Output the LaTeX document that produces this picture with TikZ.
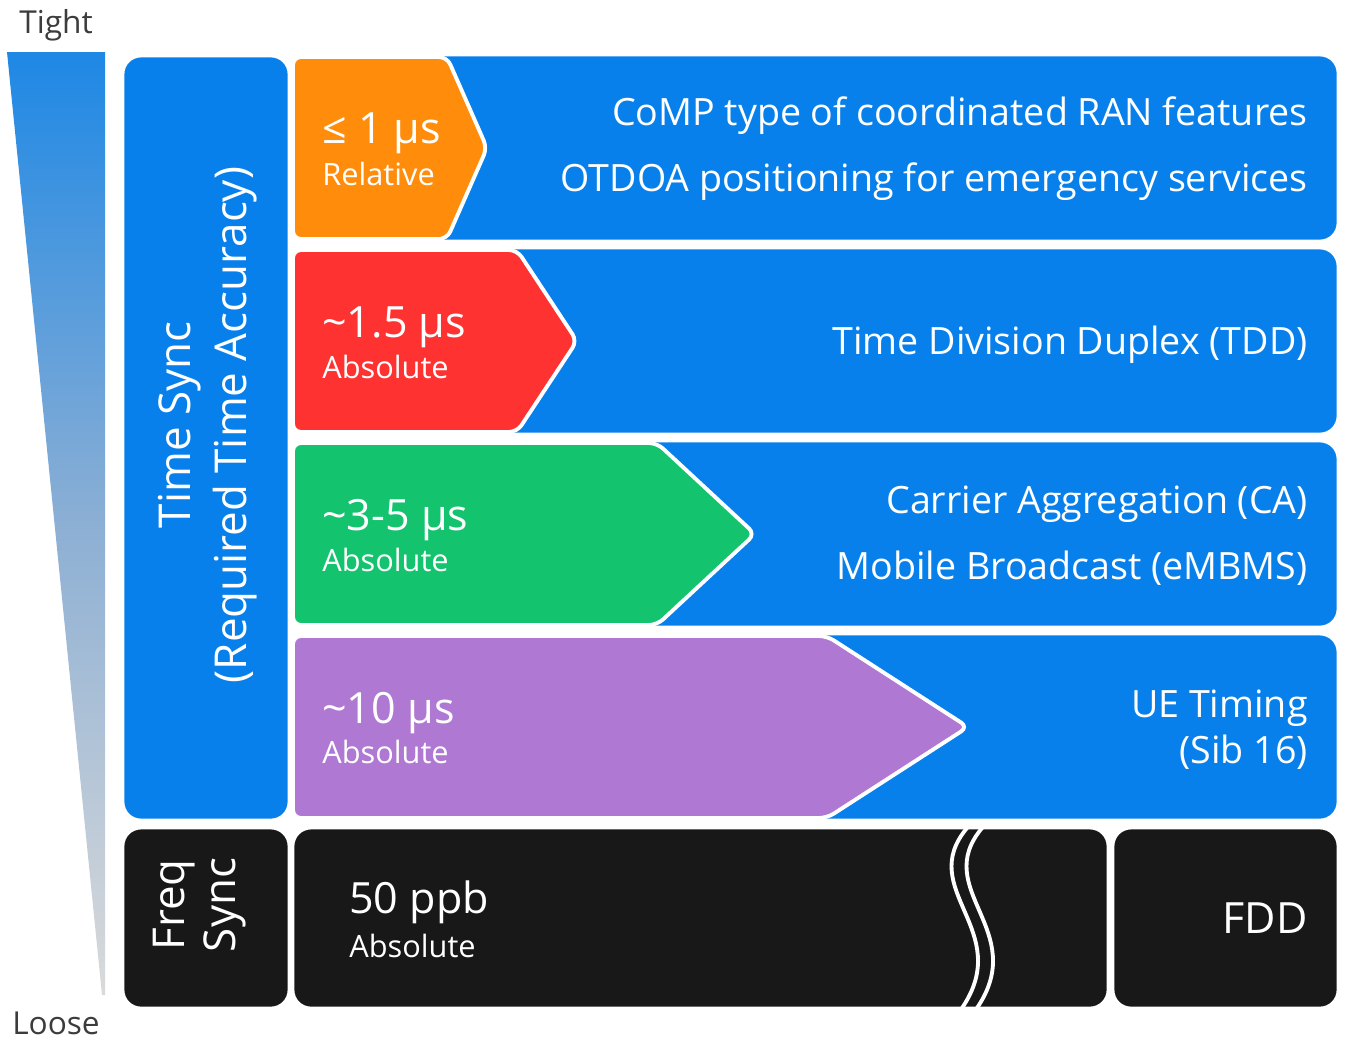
\documentclass[tikz,border=0pt]{standalone}
\usepackage{fontspec}
\setmainfont{Open Sans}
\definecolor{ebBlue}{RGB}{8,128,236}
\definecolor{ebOrange}{RGB}{255,140,10}
\definecolor{ebRed}{RGB}{255,50,50}
\definecolor{ebGreen}{RGB}{20,195,110}
\definecolor{ebPurple}{RGB}{175,120,210}
\definecolor{ebBlack}{RGB}{24,24,24}
\definecolor{ebGray}{RGB}{60,60,60}
\definecolor{wedgeTop}{RGB}{30,136,229}
\definecolor{wedgeMid}{RGB}{140,175,212}
\definecolor{wedgeBot}{RGB}{218,218,218}
\begin{document}
\begin{tikzpicture}[x=0.02cm,y=-0.02cm,
  rowbox/.style={fill=ebBlue, draw=white, line width=1.6pt, rounded corners=0.36cm},
  blackbox/.style={fill=ebBlack, draw=white, line width=1.6pt, rounded corners=0.36cm},
  chev/.style={draw=white, line width=2.2pt, rounded corners=0.16cm},
  desc/.style={text=white, font=\fontsize{21.4}{25}\selectfont, anchor=base east, inner sep=0pt},
  bigval/.style={text=white, font=\fontsize{24.5}{28}\selectfont, anchor=base west, inner sep=0pt},
  smallval/.style={text=white, font=\fontsize{17.5}{20}\selectfont, anchor=base west, inner sep=0pt},
  sidelab/.style={text=white, font=\fontsize{25}{30}\selectfont, rotate=90, inner sep=0pt},
  endlab/.style={text=ebGray, font=\fontsize{18}{22}\selectfont, inner sep=0pt, anchor=base}
]
\useasboundingbox (0,0) rectangle (1345,1042);

% gradient wedge
\shade[top color=wedgeTop, bottom color=wedgeBot, middle color=wedgeMid]
  (7,52) -- (105,52) -- (105,995) -- (102,995) -- cycle;
\node[endlab] (tight) at (56,33) {Tight};
\node[endlab] (loose) at (56,1034) {Loose};

% Time sync column
\path[rowbox] (123,56) rectangle (289,820);
\node[sidelab, anchor=base] (ts1) at (190,425) {Time Sync};
\node[sidelab, anchor=base] (ts2) at (246,425) {(Required Time Accuracy)};

% rows
\path[rowbox] (291,55) rectangle (1338,241);
\path[rowbox] (291,248) rectangle (1338,434);
\path[rowbox] (291,441) rectangle (1338,627);
\path[rowbox] (291,634) rectangle (1338,820);

% chevrons
\path[chev, fill=ebOrange] (293,57) -- (447,57) -- (487,148) -- (447,239) -- (293,239) -- cycle;
\path[chev, fill=ebRed]    (293,250) -- (517,250) -- (577,341) -- (517,432) -- (293,432) -- cycle;
\path[chev, fill=ebGreen]  (293,443) -- (657,443) -- (755,534) -- (657,625) -- (293,625) -- cycle;
\path[chev, fill=ebPurple] (293,636) -- (827,636) -- (968,727) -- (827,818) -- (293,818) -- cycle;

% chevron labels
\node[bigval] (v1) at (322,143) {≤ 1 µs};
\node[smallval] (r1) at (322,185) {Relative};
\node[bigval] (v2) at (322,337) {\textasciitilde 1.5 µs};
\node[smallval] (r2) at (322,378) {Absolute};
\node[bigval] (v3) at (322,530) {\textasciitilde 3-5 µs};
\node[smallval] (r3) at (322,571) {Absolute};
\node[bigval] (v4) at (322,723) {\textasciitilde 10 µs};
\node[smallval] (r4) at (322,763) {Absolute};

% descriptions
\node[desc] (d1a) at (1308,125) {CoMP type of coordinated RAN features};
\node[desc] (d1b) at (1308,191) {OTDOA positioning for emergency services};
\node[desc] (d2) at (1308,354) {Time Division Duplex (TDD)};
\node[desc] (d3a) at (1308,513) {Carrier Aggregation (CA)};
\node[desc] (d3b) at (1308,579) {Mobile Broadcast (eMBMS)};
\node[desc] (d4a) at (1308,717) {UE Timing};
\node[desc] (d4b) at (1308,763) {(Sib 16)};

% frequency sync row
\path[blackbox] (123,828) rectangle (289,1008);
\node[sidelab, align=center, font=\fontsize{25}{29}\selectfont] (fs) at (200,905) {Freq\\Sync};
\path[blackbox] (293,828) rectangle (1108,1008);
\draw[white, line width=2.2pt] (967,828) .. controls (915,890) and (1015,930) .. (962,1008);
\draw[white, line width=2.2pt] (982,828) .. controls (930,890) and (1030,930) .. (977,1008);
\path[blackbox] (1113,828) rectangle (1338,1008);
\node[bigval] (f1) at (349,913) {50 ppb};
\node[smallval] (f2) at (349,957) {Absolute};
\node[text=white, font=\fontsize{24.5}{28}\selectfont, anchor=base east, inner sep=0pt] (fdd) at (1308,933) {FDD};
\end{tikzpicture}
\end{document}
